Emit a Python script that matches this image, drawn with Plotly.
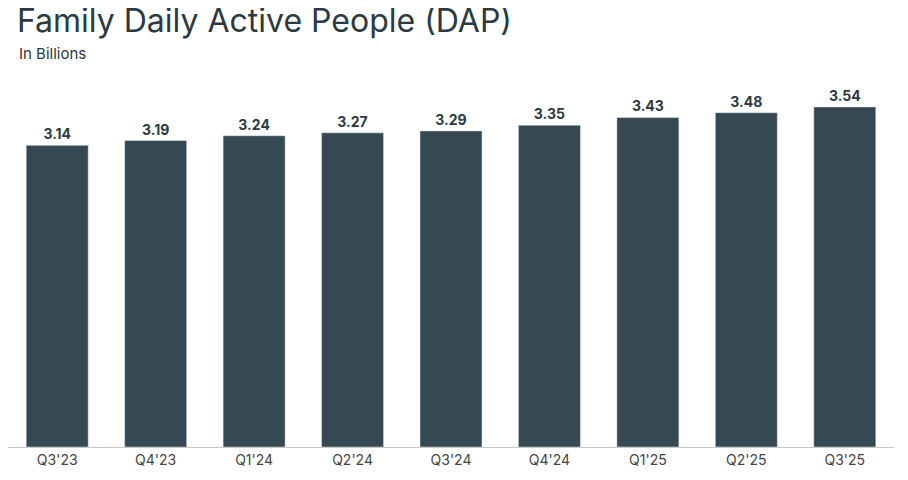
import plotly.graph_objects as go

quarters = ["Q3'23", "Q4'23", "Q1'24", "Q2'24", "Q3'24", "Q4'24", "Q1'25", "Q2'25", "Q3'25"]
dap = [3.14, 3.19, 3.24, 3.27, 3.29, 3.35, 3.43, 3.48, 3.54]

fig = go.Figure(go.Bar(
    x=quarters, y=dap,
    marker_color="#364852",
    text=[f"{v:.2f}" for v in dap],
    textposition="outside",
    textfont=dict(family="Inter", size=14, color="#2b3a42", weight="bold"),
    cliponaxis=False,
))

fig.update_layout(
    width=908, height=480,
    margin=dict(l=0, r=22, t=72, b=41),
    plot_bgcolor="white", paper_bgcolor="white",
    bargap=0.37,
    showlegend=False,
    font=dict(family="Inter", color="#2b3a42"),
    annotations=[
        dict(text="Family Daily Active People (DAP)", xref="paper", yref="paper",
             x=0, y=1, xanchor="left", yanchor="bottom", yshift=38, xshift=7,
             showarrow=False, font=dict(size=32, color="#2b3a42")),
        dict(text="In Billions", xref="paper", yref="paper",
             x=0, y=1, xanchor="left", yanchor="bottom", yshift=15, xshift=9,
             showarrow=False, font=dict(size=15, color="#2b3a42")),
    ],
)
fig.update_xaxes(showline=True, linecolor="#c8c8c8", linewidth=1, ticks="",
                 tickfont=dict(size=14, color="#444"))
fig.update_yaxes(range=[0, 3.82], visible=False, showgrid=False)

fig.write_html("out.html")
